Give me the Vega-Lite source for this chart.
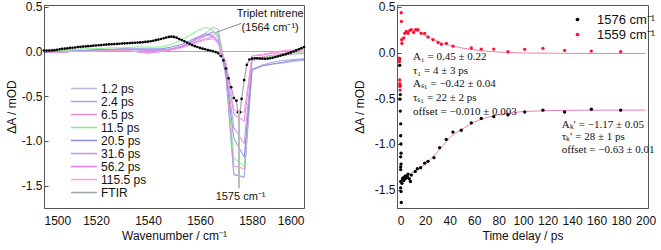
{
  "$schema": "https://vega.github.io/schema/vega-lite/v6.json",
  "padding": {"left": 4, "top": 0, "right": 2, "bottom": 2},
  "background": "white",
  "spacing": 93,
  "bounds": "flush",
  "config": {
    "view": {"stroke": "#555", "strokeWidth": 1},
    "font": "Liberation Sans",
    "axis": {"grid": false, "labelFont": "Liberation Sans", "labelFontSize": 12, "labelColor": "#111", "titleFont": "Liberation Sans", "titleFontSize": 12, "titleFontWeight": "normal", "titleColor": "#111", "domainColor": "#555", "tickColor": "#555", "labelOverlap": false},
    "axisX": {"ticks": false, "labelPadding": 7, "titlePadding": 4},
    "axisY": {"tickSize": -4, "labelPadding": 6, "titlePadding": 3},
    "legend": {"labelFont": "Liberation Sans", "labelColor": "#111"}
  },
  "datasets": {
    "trir": [
      {"s":"1.2 ps","w":1500,"a":0.0},{"s":"1.2 ps","w":1505,"a":0.0},{"s":"1.2 ps","w":1510,"a":0.01},{"s":"1.2 ps","w":1515,"a":0.01},{"s":"1.2 ps","w":1520,"a":0.02},{"s":"1.2 ps","w":1525,"a":0.02},{"s":"1.2 ps","w":1530,"a":0.02},{"s":"1.2 ps","w":1535,"a":0.02},{"s":"1.2 ps","w":1540,"a":0.01},{"s":"1.2 ps","w":1545,"a":0.01},{"s":"1.2 ps","w":1549,"a":0.02},{"s":"1.2 ps","w":1553,"a":0.05},{"s":"1.2 ps","w":1556,"a":0.09},{"s":"1.2 ps","w":1559,"a":0.14},{"s":"1.2 ps","w":1562,"a":0.2},{"s":"1.2 ps","w":1565,"a":0.27},{"s":"1.2 ps","w":1567,"a":0.25},{"s":"1.2 ps","w":1570,"a":-0.2},{"s":"1.2 ps","w":1573,"a":-1.37},{"s":"1.2 ps","w":1577,"a":-1.41},{"s":"1.2 ps","w":1580,"a":-0.22},{"s":"1.2 ps","w":1584,"a":-0.16},{"s":"1.2 ps","w":1588,"a":-0.14},{"s":"1.2 ps","w":1592,"a":-0.13},{"s":"1.2 ps","w":1596,"a":-0.11},{"s":"1.2 ps","w":1600,"a":-0.1},
      {"s":"2.4 ps","w":1500,"a":0.0},{"s":"2.4 ps","w":1505,"a":-0.01},{"s":"2.4 ps","w":1510,"a":0.0},{"s":"2.4 ps","w":1515,"a":0.01},{"s":"2.4 ps","w":1520,"a":0.01},{"s":"2.4 ps","w":1525,"a":0.02},{"s":"2.4 ps","w":1530,"a":0.02},{"s":"2.4 ps","w":1535,"a":0.02},{"s":"2.4 ps","w":1540,"a":0.02},{"s":"2.4 ps","w":1545,"a":0.02},{"s":"2.4 ps","w":1549,"a":0.03},{"s":"2.4 ps","w":1553,"a":0.06},{"s":"2.4 ps","w":1556,"a":0.1},{"s":"2.4 ps","w":1559,"a":0.14},{"s":"2.4 ps","w":1562,"a":0.18},{"s":"2.4 ps","w":1565,"a":0.22},{"s":"2.4 ps","w":1567,"a":0.2},{"s":"2.4 ps","w":1570,"a":-0.3},{"s":"2.4 ps","w":1573,"a":-1.38},{"s":"2.4 ps","w":1577,"a":-1.4},{"s":"2.4 ps","w":1580,"a":-0.2},{"s":"2.4 ps","w":1584,"a":-0.15},{"s":"2.4 ps","w":1588,"a":-0.12},{"s":"2.4 ps","w":1592,"a":-0.1},{"s":"2.4 ps","w":1596,"a":-0.09},{"s":"2.4 ps","w":1600,"a":-0.08},
      {"s":"6.5 ps","w":1500,"a":0.0},{"s":"6.5 ps","w":1505,"a":-0.01},{"s":"6.5 ps","w":1510,"a":0.0},{"s":"6.5 ps","w":1515,"a":0.0},{"s":"6.5 ps","w":1520,"a":0.01},{"s":"6.5 ps","w":1525,"a":0.01},{"s":"6.5 ps","w":1530,"a":0.01},{"s":"6.5 ps","w":1535,"a":0.0},{"s":"6.5 ps","w":1540,"a":-0.01},{"s":"6.5 ps","w":1545,"a":0.0},{"s":"6.5 ps","w":1549,"a":0.02},{"s":"6.5 ps","w":1553,"a":0.05},{"s":"6.5 ps","w":1556,"a":0.08},{"s":"6.5 ps","w":1559,"a":0.12},{"s":"6.5 ps","w":1562,"a":0.17},{"s":"6.5 ps","w":1565,"a":0.22},{"s":"6.5 ps","w":1567,"a":0.15},{"s":"6.5 ps","w":1570,"a":-0.25},{"s":"6.5 ps","w":1573,"a":-1.28},{"s":"6.5 ps","w":1577,"a":-1.31},{"s":"6.5 ps","w":1580,"a":-0.08},{"s":"6.5 ps","w":1584,"a":-0.06},{"s":"6.5 ps","w":1588,"a":-0.04},{"s":"6.5 ps","w":1592,"a":-0.02},{"s":"6.5 ps","w":1596,"a":-0.01},{"s":"6.5 ps","w":1600,"a":0.0},
      {"s":"11.5 ps","w":1500,"a":0.01},{"s":"11.5 ps","w":1505,"a":0.01},{"s":"11.5 ps","w":1510,"a":0.02},{"s":"11.5 ps","w":1515,"a":0.03},{"s":"11.5 ps","w":1520,"a":0.03},{"s":"11.5 ps","w":1525,"a":0.04},{"s":"11.5 ps","w":1530,"a":0.04},{"s":"11.5 ps","w":1535,"a":0.05},{"s":"11.5 ps","w":1540,"a":0.05},{"s":"11.5 ps","w":1545,"a":0.05},{"s":"11.5 ps","w":1549,"a":0.08},{"s":"11.5 ps","w":1553,"a":0.13},{"s":"11.5 ps","w":1556,"a":0.18},{"s":"11.5 ps","w":1559,"a":0.23},{"s":"11.5 ps","w":1562,"a":0.27},{"s":"11.5 ps","w":1565,"a":0.24},{"s":"11.5 ps","w":1567,"a":0.17},{"s":"11.5 ps","w":1570,"a":-0.2},{"s":"11.5 ps","w":1573,"a":-1.19},{"s":"11.5 ps","w":1577,"a":-1.28},{"s":"11.5 ps","w":1580,"a":-0.1},{"s":"11.5 ps","w":1584,"a":-0.07},{"s":"11.5 ps","w":1588,"a":-0.05},{"s":"11.5 ps","w":1592,"a":-0.03},{"s":"11.5 ps","w":1596,"a":-0.01},{"s":"11.5 ps","w":1600,"a":0.0},
      {"s":"20.5 ps","w":1500,"a":0.0},{"s":"20.5 ps","w":1505,"a":0.0},{"s":"20.5 ps","w":1510,"a":0.0},{"s":"20.5 ps","w":1515,"a":0.01},{"s":"20.5 ps","w":1520,"a":0.02},{"s":"20.5 ps","w":1525,"a":0.02},{"s":"20.5 ps","w":1530,"a":0.03},{"s":"20.5 ps","w":1535,"a":0.03},{"s":"20.5 ps","w":1540,"a":0.03},{"s":"20.5 ps","w":1545,"a":0.03},{"s":"20.5 ps","w":1549,"a":0.05},{"s":"20.5 ps","w":1553,"a":0.08},{"s":"20.5 ps","w":1556,"a":0.12},{"s":"20.5 ps","w":1559,"a":0.16},{"s":"20.5 ps","w":1562,"a":0.2},{"s":"20.5 ps","w":1565,"a":0.18},{"s":"20.5 ps","w":1567,"a":0.12},{"s":"20.5 ps","w":1570,"a":-0.25},{"s":"20.5 ps","w":1573,"a":-0.97},{"s":"20.5 ps","w":1577,"a":-1.18},{"s":"20.5 ps","w":1580,"a":-0.2},{"s":"20.5 ps","w":1584,"a":-0.16},{"s":"20.5 ps","w":1588,"a":-0.14},{"s":"20.5 ps","w":1592,"a":-0.12},{"s":"20.5 ps","w":1596,"a":-0.1},{"s":"20.5 ps","w":1600,"a":-0.09},
      {"s":"31.6 ps","w":1500,"a":0.0},{"s":"31.6 ps","w":1505,"a":-0.01},{"s":"31.6 ps","w":1510,"a":0.0},{"s":"31.6 ps","w":1515,"a":0.0},{"s":"31.6 ps","w":1520,"a":0.01},{"s":"31.6 ps","w":1525,"a":0.01},{"s":"31.6 ps","w":1530,"a":0.02},{"s":"31.6 ps","w":1535,"a":0.02},{"s":"31.6 ps","w":1540,"a":0.01},{"s":"31.6 ps","w":1545,"a":0.01},{"s":"31.6 ps","w":1549,"a":0.03},{"s":"31.6 ps","w":1553,"a":0.06},{"s":"31.6 ps","w":1556,"a":0.1},{"s":"31.6 ps","w":1559,"a":0.15},{"s":"31.6 ps","w":1562,"a":0.18},{"s":"31.6 ps","w":1565,"a":0.17},{"s":"31.6 ps","w":1567,"a":0.1},{"s":"31.6 ps","w":1570,"a":-0.2},{"s":"31.6 ps","w":1573,"a":-0.85},{"s":"31.6 ps","w":1577,"a":-1.03},{"s":"31.6 ps","w":1580,"a":-0.1},{"s":"31.6 ps","w":1584,"a":-0.08},{"s":"31.6 ps","w":1588,"a":-0.06},{"s":"31.6 ps","w":1592,"a":-0.04},{"s":"31.6 ps","w":1596,"a":-0.03},{"s":"31.6 ps","w":1600,"a":-0.02},
      {"s":"56.2 ps","w":1500,"a":0.0},{"s":"56.2 ps","w":1505,"a":-0.01},{"s":"56.2 ps","w":1510,"a":0.0},{"s":"56.2 ps","w":1515,"a":0.0},{"s":"56.2 ps","w":1520,"a":0.0},{"s":"56.2 ps","w":1525,"a":0.01},{"s":"56.2 ps","w":1530,"a":0.01},{"s":"56.2 ps","w":1535,"a":0.0},{"s":"56.2 ps","w":1540,"a":-0.02},{"s":"56.2 ps","w":1545,"a":0.0},{"s":"56.2 ps","w":1549,"a":0.02},{"s":"56.2 ps","w":1553,"a":0.05},{"s":"56.2 ps","w":1556,"a":0.08},{"s":"56.2 ps","w":1559,"a":0.11},{"s":"56.2 ps","w":1562,"a":0.14},{"s":"56.2 ps","w":1565,"a":0.16},{"s":"56.2 ps","w":1567,"a":0.1},{"s":"56.2 ps","w":1570,"a":-0.15},{"s":"56.2 ps","w":1573,"a":-0.7},{"s":"56.2 ps","w":1577,"a":-0.78},{"s":"56.2 ps","w":1580,"a":-0.05},{"s":"56.2 ps","w":1584,"a":-0.04},{"s":"56.2 ps","w":1588,"a":-0.02},{"s":"56.2 ps","w":1592,"a":0.0},{"s":"56.2 ps","w":1596,"a":0.01},{"s":"56.2 ps","w":1600,"a":0.02},
      {"s":"115.5 ps","w":1500,"a":0.0},{"s":"115.5 ps","w":1505,"a":-0.01},{"s":"115.5 ps","w":1510,"a":0.0},{"s":"115.5 ps","w":1515,"a":0.0},{"s":"115.5 ps","w":1520,"a":0.0},{"s":"115.5 ps","w":1525,"a":0.01},{"s":"115.5 ps","w":1530,"a":0.01},{"s":"115.5 ps","w":1535,"a":0.0},{"s":"115.5 ps","w":1540,"a":-0.01},{"s":"115.5 ps","w":1545,"a":0.0},{"s":"115.5 ps","w":1549,"a":0.02},{"s":"115.5 ps","w":1553,"a":0.04},{"s":"115.5 ps","w":1556,"a":0.07},{"s":"115.5 ps","w":1559,"a":0.1},{"s":"115.5 ps","w":1562,"a":0.13},{"s":"115.5 ps","w":1565,"a":0.14},{"s":"115.5 ps","w":1567,"a":0.09},{"s":"115.5 ps","w":1570,"a":-0.12},{"s":"115.5 ps","w":1573,"a":-0.65},{"s":"115.5 ps","w":1577,"a":-0.68},{"s":"115.5 ps","w":1580,"a":-0.05},{"s":"115.5 ps","w":1584,"a":-0.03},{"s":"115.5 ps","w":1588,"a":-0.01},{"s":"115.5 ps","w":1592,"a":0.01},{"s":"115.5 ps","w":1596,"a":0.02},{"s":"115.5 ps","w":1600,"a":0.03}
    ],
    "ftir": [
      {"w":1500,"a":0.01},{"w":1501,"a":0.01},{"w":1502,"a":0.01},{"w":1503,"a":0.012},{"w":1504,"a":0.015},{"w":1505,"a":0.02},{"w":1506,"a":0.025},{"w":1507,"a":0.03},{"w":1508,"a":0.032},{"w":1509,"a":0.035},{"w":1510,"a":0.04},{"w":1511,"a":0.042},{"w":1512,"a":0.045},{"w":1513,"a":0.05},{"w":1514,"a":0.052},{"w":1515,"a":0.055},{"w":1516,"a":0.057},{"w":1517,"a":0.06},{"w":1518,"a":0.062},{"w":1519,"a":0.065},{"w":1520,"a":0.067},{"w":1521,"a":0.07},{"w":1522,"a":0.072},{"w":1523,"a":0.075},{"w":1524,"a":0.077},{"w":1525,"a":0.08},{"w":1526,"a":0.081},{"w":1527,"a":0.083},{"w":1528,"a":0.085},{"w":1529,"a":0.087},{"w":1530,"a":0.09},{"w":1531,"a":0.091},{"w":1532,"a":0.092},{"w":1533,"a":0.094},{"w":1534,"a":0.096},{"w":1535,"a":0.098},{"w":1536,"a":0.1},{"w":1537,"a":0.102},{"w":1538,"a":0.104},{"w":1539,"a":0.107},{"w":1540,"a":0.11},{"w":1541,"a":0.115},{"w":1542,"a":0.12},{"w":1543,"a":0.127},{"w":1544,"a":0.133},{"w":1545,"a":0.14},{"w":1546,"a":0.148},{"w":1547,"a":0.156},{"w":1548,"a":0.163},{"w":1549,"a":0.166},{"w":1550,"a":0.163},{"w":1551,"a":0.155},{"w":1552,"a":0.14},{"w":1553,"a":0.128},{"w":1554,"a":0.115},{"w":1555,"a":0.1},{"w":1556,"a":0.085},{"w":1557,"a":0.072},{"w":1558,"a":0.06},{"w":1559,"a":0.05},{"w":1560,"a":0.04},{"w":1561,"a":0.032},{"w":1562,"a":0.025},{"w":1563,"a":0.016},{"w":1564,"a":0.01},{"w":1565,"a":0.003},{"w":1566,"a":-0.005},{"w":1567,"a":-0.02},{"w":1568,"a":-0.05},{"w":1569,"a":-0.1},{"w":1570,"a":-0.19},{"w":1571,"a":-0.3},{"w":1572,"a":-0.4},{"w":1573,"a":-0.52},{"w":1574,"a":-0.55},{"w":1574.6,"a":-0.68},{"w":1575.4,"a":-0.68},{"w":1576,"a":-0.53},{"w":1577,"a":-0.32},{"w":1578,"a":-0.15},{"w":1579,"a":-0.09},{"w":1580,"a":-0.08},{"w":1581,"a":-0.075},{"w":1582,"a":-0.075},{"w":1583,"a":-0.078},{"w":1584,"a":-0.08},{"w":1585,"a":-0.082},{"w":1586,"a":-0.08},{"w":1587,"a":-0.076},{"w":1588,"a":-0.07},{"w":1589,"a":-0.062},{"w":1590,"a":-0.054},{"w":1591,"a":-0.046},{"w":1592,"a":-0.038},{"w":1593,"a":-0.03},{"w":1594,"a":-0.02},{"w":1595,"a":-0.01},{"w":1596,"a":0.0},{"w":1597,"a":0.012},{"w":1598,"a":0.025},{"w":1599,"a":0.037},{"w":1600,"a":0.05}
    ],
    "pts": [
      {"s":"1576 cm⁻¹","t":-0.8,"a":-0.07},{"s":"1576 cm⁻¹","t":-0.8,"a":-0.14},{"s":"1576 cm⁻¹","t":-0.5,"a":-0.36},{"s":"1576 cm⁻¹","t":-0.3,"a":-0.46},{"s":"1576 cm⁻¹","t":-0.6,"a":-0.51},{"s":"1576 cm⁻¹","t":-0.3,"a":-0.64},{"s":"1576 cm⁻¹","t":0,"a":-0.78},{"s":"1576 cm⁻¹","t":0,"a":-0.91},{"s":"1576 cm⁻¹","t":0.2,"a":-1.0},{"s":"1576 cm⁻¹","t":0.3,"a":-1.1},{"s":"1576 cm⁻¹","t":0,"a":-1.14},{"s":"1576 cm⁻¹","t":0.3,"a":-1.22},{"s":"1576 cm⁻¹","t":0,"a":-1.25},{"s":"1576 cm⁻¹","t":0,"a":-1.28},{"s":"1576 cm⁻¹","t":0,"a":-1.41},{"s":"1576 cm⁻¹","t":0,"a":-1.48},{"s":"1576 cm⁻¹","t":0.3,"a":-1.52},{"s":"1576 cm⁻¹","t":0.5,"a":-1.64},{"s":"1576 cm⁻¹","t":1,"a":-1.43},{"s":"1576 cm⁻¹","t":1.5,"a":-1.38},{"s":"1576 cm⁻¹","t":2,"a":-1.37},{"s":"1576 cm⁻¹","t":2.5,"a":-1.4},{"s":"1576 cm⁻¹","t":3,"a":-1.36},{"s":"1576 cm⁻¹","t":3.5,"a":-1.38},{"s":"1576 cm⁻¹","t":4,"a":-1.35},{"s":"1576 cm⁻¹","t":5,"a":-1.37},{"s":"1576 cm⁻¹","t":5.5,"a":-1.36},{"s":"1576 cm⁻¹","t":6,"a":-1.33},{"s":"1576 cm⁻¹","t":7,"a":-1.38},{"s":"1576 cm⁻¹","t":8,"a":-1.41},{"s":"1576 cm⁻¹","t":8.7,"a":-1.34},{"s":"1576 cm⁻¹","t":11.9,"a":-1.3},{"s":"1576 cm⁻¹","t":13.6,"a":-1.27},{"s":"1576 cm⁻¹","t":16.3,"a":-1.26},{"s":"1576 cm⁻¹","t":19.6,"a":-1.21},{"s":"1576 cm⁻¹","t":22.3,"a":-1.19},{"s":"1576 cm⁻¹","t":27.2,"a":-1.15},{"s":"1576 cm⁻¹","t":31.8,"a":-1.04},{"s":"1576 cm⁻¹","t":37.2,"a":-0.95},{"s":"1576 cm⁻¹","t":42.7,"a":-0.87},{"s":"1576 cm⁻¹","t":49.5,"a":-0.85},{"s":"1576 cm⁻¹","t":57.7,"a":-0.77},{"s":"1576 cm⁻¹","t":65.8,"a":-0.72},{"s":"1576 cm⁻¹","t":76,"a":-0.7},{"s":"1576 cm⁻¹","t":87.6,"a":-0.68},{"s":"1576 cm⁻¹","t":101.3,"a":-0.65},{"s":"1576 cm⁻¹","t":116.2,"a":-0.63},{"s":"1576 cm⁻¹","t":133.9,"a":-0.65},{"s":"1576 cm⁻¹","t":155.7,"a":-0.62},{"s":"1576 cm⁻¹","t":179.7,"a":-0.63},
      {"s":"1559 cm⁻¹","t":-1.4,"a":-0.07},{"s":"1559 cm⁻¹","t":-1.2,"a":-0.06},{"s":"1559 cm⁻¹","t":-1,"a":-0.1},{"s":"1559 cm⁻¹","t":-0.8,"a":-0.3},{"s":"1559 cm⁻¹","t":-0.7,"a":-0.34},{"s":"1559 cm⁻¹","t":-0.6,"a":-0.37},{"s":"1559 cm⁻¹","t":-0.5,"a":-0.41},{"s":"1559 cm⁻¹","t":0.5,"a":0.435},{"s":"1559 cm⁻¹","t":0.6,"a":0.34},{"s":"1559 cm⁻¹","t":0.8,"a":0.14},{"s":"1559 cm⁻¹","t":1,"a":0.1},{"s":"1559 cm⁻¹","t":2.5,"a":0.16},{"s":"1559 cm⁻¹","t":3.3,"a":0.21},{"s":"1559 cm⁻¹","t":4.6,"a":0.23},{"s":"1559 cm⁻¹","t":6,"a":0.21},{"s":"1559 cm⁻¹","t":7.3,"a":0.24},{"s":"1559 cm⁻¹","t":8.7,"a":0.25},{"s":"1559 cm⁻¹","t":10.6,"a":0.22},{"s":"1559 cm⁻¹","t":12.2,"a":0.25},{"s":"1559 cm⁻¹","t":14.1,"a":0.25},{"s":"1559 cm⁻¹","t":16.8,"a":0.21},{"s":"1559 cm⁻¹","t":19.6,"a":0.21},{"s":"1559 cm⁻¹","t":22.3,"a":0.17},{"s":"1559 cm⁻¹","t":26.4,"a":0.14},{"s":"1559 cm⁻¹","t":30.5,"a":0.11},{"s":"1559 cm⁻¹","t":33.2,"a":0.09},{"s":"1559 cm⁻¹","t":37.3,"a":0.1},{"s":"1559 cm⁻¹","t":42.7,"a":0.07},{"s":"1559 cm⁻¹","t":57.7,"a":0.05},{"s":"1559 cm⁻¹","t":65.8,"a":0.038},{"s":"1559 cm⁻¹","t":76,"a":0.038},{"s":"1559 cm⁻¹","t":87.6,"a":0.009},{"s":"1559 cm⁻¹","t":101.3,"a":0.035},{"s":"1559 cm⁻¹","t":116.2,"a":0.046},{"s":"1559 cm⁻¹","t":133.9,"a":0.024},{"s":"1559 cm⁻¹","t":155.7,"a":0.016},{"s":"1559 cm⁻¹","t":179.7,"a":0.009}
    ],
    "fits": [
      {"f":"red","t":12,"a":0.24},{"f":"red","t":15,"a":0.225},{"f":"red","t":20,"a":0.19},{"f":"red","t":25,"a":0.155},{"f":"red","t":30,"a":0.125},{"f":"red","t":35,"a":0.1},{"f":"red","t":40,"a":0.08},{"f":"red","t":50,"a":0.05},{"f":"red","t":60,"a":0.03},{"f":"red","t":70,"a":0.015},{"f":"red","t":80,"a":0.005},{"f":"red","t":100,"a":-0.005},{"f":"red","t":150,"a":-0.01},{"f":"red","t":200,"a":-0.01},
      {"f":"black","t":2,"a":-1.38},{"f":"black","t":5,"a":-1.35},{"f":"black","t":10,"a":-1.31},{"f":"black","t":15,"a":-1.27},{"f":"black","t":20,"a":-1.22},{"f":"black","t":25,"a":-1.16},{"f":"black","t":30,"a":-1.09},{"f":"black","t":35,"a":-1.01},{"f":"black","t":40,"a":-0.93},{"f":"black","t":45,"a":-0.88},{"f":"black","t":50,"a":-0.84},{"f":"black","t":55,"a":-0.8},{"f":"black","t":60,"a":-0.76},{"f":"black","t":70,"a":-0.71},{"f":"black","t":80,"a":-0.68},{"f":"black","t":90,"a":-0.66},{"f":"black","t":100,"a":-0.645},{"f":"black","t":120,"a":-0.635},{"f":"black","t":150,"a":-0.63},{"f":"black","t":200,"a":-0.63}
    ],
    "notes": [
      {"t":10,"a":-0.046,"txt":"A₁ = 0.45 ± 0.22"},
      {"t":10,"a":-0.2,"txt":"τ₁ = 4 ± 3 ps"},
      {"t":10,"a":-0.34,"txt":"Aₛ₁ = −0.42 ± 0.04"},
      {"t":10,"a":-0.5,"txt":"τₛ₁ = 22 ± 2 ps"},
      {"t":10,"a":-0.65,"txt":"offset = −0.010 ± 0.003"},
      {"t":131.5,"a":-0.79,"txt":"Aₖ′ = −1.17 ± 0.05"},
      {"t":131.5,"a":-0.92,"txt":"τₖ′ = 28 ± 1 ps"},
      {"t":131.5,"a":-1.07,"txt":"offset = −0.63 ± 0.01"}
    ]
  },
  "hconcat": [
    {
      "width": 260,
      "height": 203,
      "encoding": {
        "x": {"field": "w", "type": "quantitative", "scale": {"domain": [1500, 1600], "nice": false, "zero": false}, "axis": {"title": "Wavenumber / cm⁻¹", "values": [1500, 1520, 1540, 1560, 1580, 1600], "format": "d", "labelOverlap": false}},
        "y": {"field": "a", "type": "quantitative", "scale": {"domain": [-1.75, 0.52], "nice": false, "zero": false}, "axis": {"title": "ΔA / mOD", "values": [-1.5, -1, -0.5, 0, 0.5], "labelExpr": "replace(format(datum.value, '.1f'), '−', '-')"}}
      },
      "layer": [
        {
          "data": {"values": [{"w": 1500, "w2": 1600, "a": 0}]},
          "mark": {"type": "rule", "color": "#aaa", "strokeWidth": 1},
          "encoding": {"x2": {"field": "w2"}}
        },
        {
          "data": {"name": "trir"},
          "mark": {"type": "line", "strokeWidth": 1},
          "encoding": {
            "color": {"field": "s", "type": "nominal", "scale": {"domain": ["1.2 ps", "2.4 ps", "6.5 ps", "11.5 ps", "20.5 ps", "31.6 ps", "56.2 ps", "115.5 ps", "FTIR"], "range": ["#b4bce0", "#a0a8f0", "#f08cd0", "#80f080", "#8c8ce0", "#c890f0", "#e87ce8", "#f8a0d0", "#9ea4ac"]}, "legend": {"title": null, "orient": "none", "legendX": 26, "legendY": 77, "symbolType": "stroke", "symbolSize": 676, "symbolStrokeWidth": 1.5, "clipHeight": 13, "labelFontSize": 12, "labelOffset": 3, "padding": 0, "rowPadding": 0}}
          }
        },
        {
          "data": {"name": "ftir"},
          "mark": {"type": "line", "strokeWidth": 1.2, "color": "#9ea4ac"},
          "encoding": {"color": {"datum": "FTIR"}}
        },
        {
          "data": {"name": "ftir"},
          "mark": {"type": "circle", "size": 7, "color": "#000", "opacity": 1},
          "encoding": {}
        },
        {
          "data": {"values": [{"w": 1575, "a": -0.65, "a2": -1.53}]},
          "mark": {"type": "rule", "color": "#bbb", "strokeWidth": 2},
          "encoding": {"y2": {"field": "a2"}}
        },
        {
          "data": {"values": [{"w": 1566.3, "a": 0.215, "w2": 1575.9, "a2": 0.315}]},
          "mark": {"type": "rule", "color": "#888", "strokeWidth": 1},
          "encoding": {"x2": {"field": "w2"}, "y2": {"field": "a2"}}
        },
        {
          "data": {"values": [{"w": 1587, "a": 0.42, "txt": "Triplet nitrene"}, {"w": 1587, "a": 0.26, "txt": "(1564 cm⁻¹)"}, {"w": 1575.6, "a": -1.63, "txt": "1575 cm⁻¹"}]},
          "mark": {"type": "text", "fontSize": 11, "font": "Liberation Sans", "color": "#111", "align": "center", "baseline": "middle"},
          "encoding": {"text": {"field": "txt"}}
        }
      ]
    },
    {
      "width": 251,
      "height": 203,
      "encoding": {
        "x": {"field": "t", "type": "quantitative", "scale": {"domain": [-3, 202], "nice": false, "zero": false}, "axis": {"title": "Time delay / ps", "values": [0, 20, 40, 60, 80, 100, 120, 140, 160, 180, 200], "format": "d", "labelOverlap": false, "labelFlush": false}},
        "y": {"field": "a", "type": "quantitative", "scale": {"domain": [-1.7, 0.52], "nice": false, "zero": false}, "axis": {"title": "ΔA / mOD", "values": [-1.5, -1, -0.5, 0, 0.5], "labelExpr": "replace(format(datum.value, '.1f'), '−', '-')", "titlePadding": 8}}
      },
      "layer": [
        {
          "data": {"name": "fits"},
          "mark": {"type": "line", "strokeWidth": 1, "color": "#f27fb2"},
          "encoding": {"detail": {"field": "f"}}
        },
        {
          "data": {"name": "pts"},
          "mark": {"type": "circle", "size": 11, "opacity": 1},
          "encoding": {
            "color": {"field": "s", "type": "nominal", "scale": {"domain": ["1576 cm⁻¹", "1559 cm⁻¹"], "range": ["#000000", "#ff1030"]}, "legend": {"title": null, "orient": "none", "legendX": 174, "legendY": 8, "symbolType": "circle", "symbolSize": 14, "labelFontSize": 13, "labelOffset": 13, "padding": 0, "rowPadding": 1}}
          }
        },
        {
          "data": {"name": "notes"},
          "mark": {"type": "text", "fontSize": 11, "font": "Liberation Serif", "color": "#111", "align": "left", "baseline": "middle"},
          "encoding": {"text": {"field": "txt"}}
        }
      ]
    }
  ],
  "resolve": {"scale": {"color": "independent"}}
}
